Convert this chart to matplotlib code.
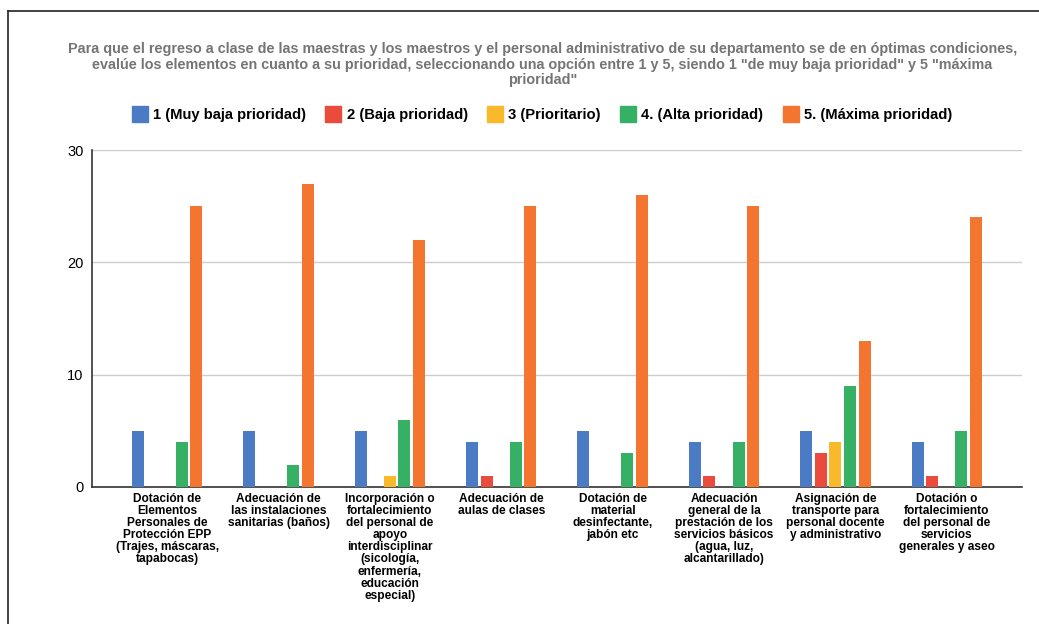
import numpy as np
import matplotlib.pyplot as plt
from matplotlib.lines import Line2D

plt.rcParams['font.family'] = ['Liberation Sans', 'DejaVu Sans']

categories = [
    "Dotación de\nElementos\nPersonales de\nProtección EPP\n(Trajes, máscaras,\ntapabocas)",
    "Adecuación de\nlas instalaciones\nsanitarias (baños)",
    "Incorporación o\nfortalecimiento\ndel personal de\napoyo\ninterdisciplinar\n(sicología,\nenfermería,\neducación\nespecial)",
    "Adecuación de\naulas de clases",
    "Dotación de\nmaterial\ndesinfectante,\njabón etc",
    "Adecuación\ngeneral de la\nprestación de los\nservicios básicos\n(agua, luz,\nalcantarillado)",
    "Asignación de\ntransporte para\npersonal docente\ny administrativo",
    "Dotación o\nfortalecimiento\ndel personal de\nservicios\ngenerales y aseo",
]
series_names = ["1 (Muy baja prioridad)", "2 (Baja prioridad)", "3 (Prioritario)",
                "4. (Alta prioridad)", "5. (Máxima prioridad)"]
muy_baja = [5, 5, 5, 4, 5, 4, 5, 4]
baja = [0, 0, 0, 1, 0, 1, 3, 1]
prioritario = [0, 0, 1, 0, 0, 0, 4, 0]
alta = [4, 2, 6, 4, 3, 4, 9, 5]
maxima = [25, 27, 22, 25, 26, 25, 13, 24]
colors = ["#4a7bc4", "#ea4b3c", "#f8b92a", "#35b064", "#f47530"]

title = ("Para que el regreso a clase de las maestras y los maestros y el personal administrativo "
         "de su departamento se de en óptimas condiciones,\nevalúe los elementos en cuanto a su "
         "prioridad, seleccionando una opción entre 1 y 5, siendo 1 \"de muy baja prioridad\" y 5 \"máxima\nprioridad\"")

fig = plt.figure(figsize=(10.39, 6.24), dpi=100)
ax = fig.add_axes([0.0885, 0.2196, 0.8951, 0.54])

x = np.arange(len(categories))
step = 0.131
width = 0.108
all_series = [muy_baja, baja, prioritario, alta, maxima]
handles = []
for i, (vals, c, name) in enumerate(zip(all_series, colors, series_names)):
    ax.bar(x + (i - 2) * step, vals, width, color=c, label=name, zorder=3)
    handles.append(Line2D([], [], marker='s', linestyle='none', markersize=11,
                          markerfacecolor=c, markeredgecolor=c, label=name))

ax.set_xlim(-0.675, len(categories) - 1 + 0.675)
ax.set_ylim(0, 30)
ax.set_yticks([0, 10, 20, 30])
ax.tick_params(axis='y', length=0, labelsize=10.5, pad=6)
ax.set_xticks(x)
ax.set_xticklabels(categories, fontsize=8.6, fontweight='bold', linespacing=1.02)
ax.tick_params(axis='x', length=0, pad=4)
ax.grid(axis='y', color='#cccccc', linewidth=1, zorder=0)
for s in ['top', 'right']:
    ax.spines[s].set_visible(False)
ax.spines['left'].set_color('#333333')
ax.spines['bottom'].set_color('#333333')
ax.spines['left'].set_linewidth(1.2)
ax.spines['bottom'].set_linewidth(1.2)

fig.text(0.522, 0.932, title, ha='center', va='top', fontsize=10.4, fontweight='bold',
         color='#757575', linespacing=1.12)

fig.legend(handles=handles, loc='center', bbox_to_anchor=(0.522, 1 - 115 / 624), ncol=5,
           frameon=False, prop={'weight': 'bold', 'size': 10.6}, handletextpad=0.4,
           columnspacing=1.35, handlelength=1.0)

# page frame
fig.add_artist(Line2D([8 / 1039, 8 / 1039], [0, 1 - 11 / 624], color='#222222', linewidth=1.2))
fig.add_artist(Line2D([8 / 1039, 1], [1 - 11 / 624, 1 - 11 / 624], color='#222222', linewidth=1.2))

fig.savefig("out.png", dpi=100)
